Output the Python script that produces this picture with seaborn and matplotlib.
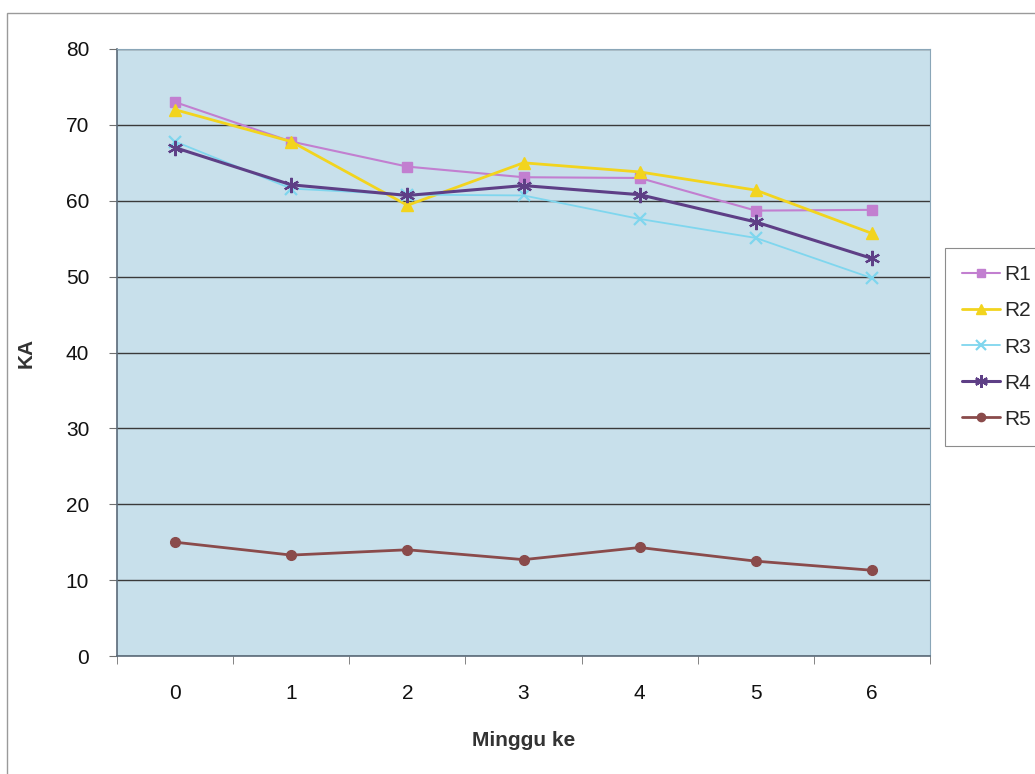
import matplotlib
matplotlib.use("Agg")
import matplotlib.pyplot as plt
import seaborn as sns
import pandas as pd
from matplotlib.patches import Rectangle

weeks = [0, 1, 2, 3, 4, 5, 6]
R1 = [73.0, 67.8, 64.5, 63.1, 63.0, 58.7, 58.8]
R2 = [72.0, 67.8, 59.4, 65.0, 63.8, 61.4, 55.7]
R3 = [67.8, 61.6, 60.8, 60.7, 57.6, 55.1, 49.8]
R4 = [67.0, 62.1, 60.7, 62.0, 60.8, 57.2, 52.4]
R5 = [15.0, 13.3, 14.0, 12.7, 14.3, 12.5, 11.3]
series_names = ["R1", "R2", "R3", "R4", "R5"]
y_ticks = [0, 10, 20, 30, 40, 50, 60, 70, 80]

df = pd.DataFrame({"Minggu": weeks * 5,
                   "KA": R1 + R2 + R3 + R4 + R5,
                   "Seri": sum([[n] * len(weeks) for n in series_names], [])})

sns.set_style("white")
plt.rcParams['font.family'] = ['Liberation Sans', 'DejaVu Sans']

fig = plt.figure(figsize=(10.35, 7.74), dpi=100)
fig.patches.append(Rectangle((7 / 1035, -0.1), 1.2, 1 - 13 / 774 + 0.1, transform=fig.transFigure,
                             fill=False, edgecolor="#9a9a9a", linewidth=1.0))
ax = fig.add_axes([117 / 1035, 1 - 656 / 774, (930 - 117) / 1035, (656 - 49) / 774])
ax.set_facecolor("#c8e0eb")

palette = {"R1": "#c27fd0", "R2": "#f2d41e", "R3": "#7fd6ee", "R4": "#5e3f86", "R5": "#8a4b4b"}
markers = {"R1": "s", "R2": "^", "R3": "x", "R4": (6, 2, 0), "R5": "o"}
lws = {"R1": 1.5, "R2": 2.0, "R3": 1.3, "R4": 2.2, "R5": 2.0}
msz = {"R1": 7, "R2": 8, "R3": 8, "R4": 11, "R5": 7}

for name in series_names:
    sub = df[df["Seri"] == name]
    sns.lineplot(data=sub, x="Minggu", y="KA", ax=ax, color=palette[name],
                 marker=markers[name], markersize=msz[name], linewidth=lws[name],
                 markeredgecolor=palette[name], markeredgewidth=1.6 if name in ("R3", "R4") else 1,
                 label=name)

ax.set_xlim(-0.5, 6.5)
ax.set_ylim(0, 80)
ax.set_yticks(y_ticks)
ax.set_xticks(weeks)
ax.set_xticks([i - 0.5 for i in range(8)], minor=True)
ax.tick_params(axis="x", which="major", length=0, pad=20, labelsize=15, labelcolor="#111111")
ax.tick_params(axis="x", which="minor", length=6, color="#707070", direction="out", bottom=True)
ax.tick_params(axis="y", length=6, color="#707070", direction="out", left=True, labelsize=15, pad=14,
               labelcolor="#111111")
ax.grid(axis="y", color="#3a3a3a", linewidth=1.0)
ax.set_axisbelow(True)
for s in ["top", "right"]:
    ax.spines[s].set_color("#8aa6b8")
    ax.spines[s].set_linewidth(0.8)
for s in ["left", "bottom"]:
    ax.spines[s].set_color("#5a6a78")
    ax.spines[s].set_linewidth(1.2)

ax.set_xlabel("Minggu ke", fontsize=15, fontweight="bold", color="#333333", labelpad=20)
ax.set_ylabel("KA", fontsize=15, fontweight="bold", color="#333333", labelpad=22)

leg = ax.legend(loc="center left", bbox_to_anchor=(1.018, 0.509), borderaxespad=0, frameon=True,
                fontsize=15, handlelength=1.8, handletextpad=0.2, borderpad=0.85, labelspacing=0.82,
                fancybox=False, edgecolor="#707070", markerscale=0.85)
leg.get_frame().set_linewidth(0.8)

fig.savefig("out.png", dpi=100)
